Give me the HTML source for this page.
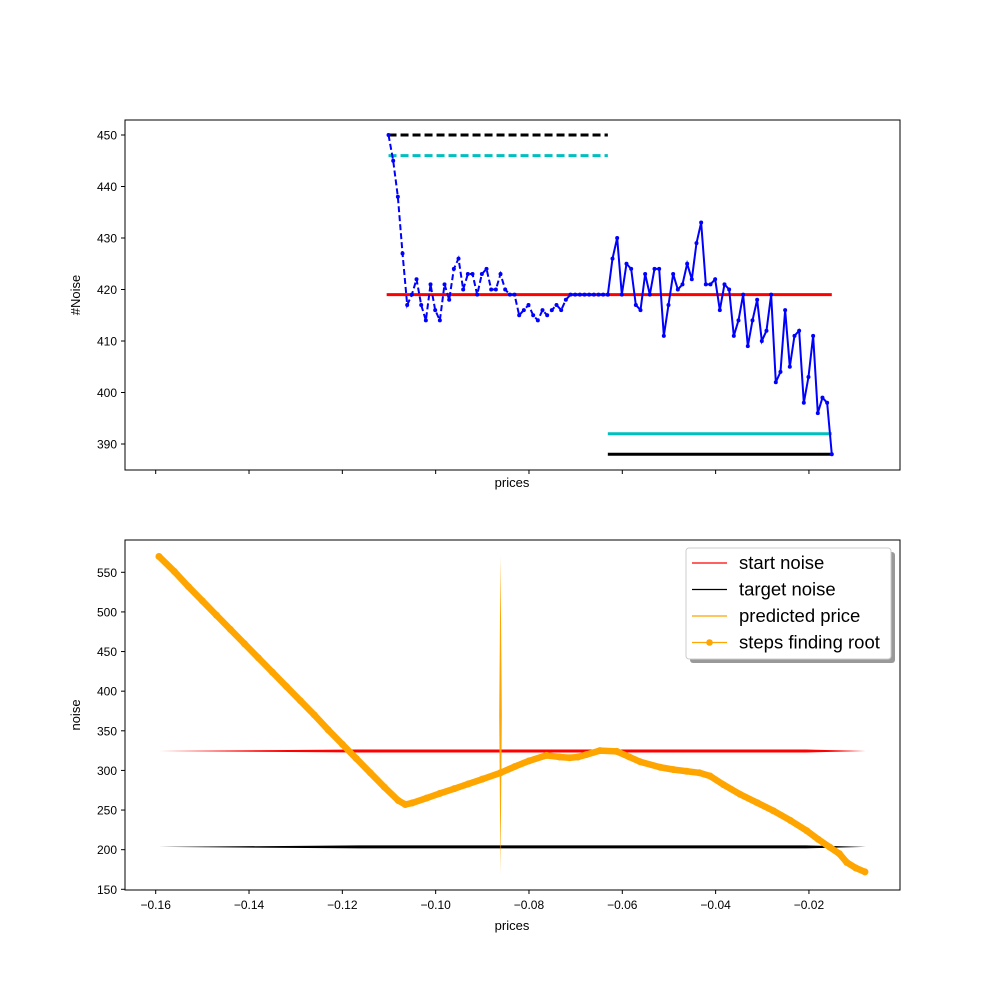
<!DOCTYPE html>
<html><head><meta charset="utf-8"><style>
html,body{margin:0;padding:0;background:#fff;}
svg{display:block;font-family:"Liberation Sans","DejaVu Sans",sans-serif;}
</style></head><body>
<svg id="chart" width="1000" height="1000" viewBox="0 0 1000 1000" xmlns="http://www.w3.org/2000/svg">
<rect x="0" y="0" width="1000" height="1000" fill="#fff"/>
<g id="topPanel"></g>
<g id="botPanel"></g>
</svg>
<script>
// ---- data ----
const priceTicks = [-0.16,-0.14,-0.12,-0.10,-0.08,-0.06,-0.04,-0.02];
const priceTickLabels = ["−0.16","−0.14","−0.12","−0.10","−0.08","−0.06","−0.04","−0.02"];
const topYTicks = [390,400,410,420,430,440,450];
const botYTicks = [150,200,250,300,350,400,450,500,550];
// top panel series
const dashedRange = [-0.1101, -0.0631];
const dashedNoise = [450,445,438,427,417,419,422,417,414,421,416,414,421,418,424,426,420,423,423,419,423,424,420,420,423,420,419,419,415,416,417,415,414,416,415,416,417,416,418,419,419,419,419,419,419,419,419,419];
const solidRange = [-0.0631, -0.0151];
const solidNoise = [419,426,430,419,425,424,417,416,423,419,424,424,411,417,423,420,421,425,422,429,433,421,421,422,416,421,420,411,414,419,409,414,418,410,412,419,402,404,416,405,411,412,398,403,411,396,399,398,388];
const topStartNoise = 419, topTargetA = 392, topTargetB = 388, topDashA = 450, topDashB = 446;
// bottom panel series
const stepPrices = [-0.1593,-0.156,-0.153,-0.150,-0.147,-0.144,-0.141,-0.138,-0.135,-0.132,-0.129,-0.126,-0.123,-0.120,-0.117,-0.114,-0.111,-0.108,-0.1065,-0.105,-0.102,-0.0991,-0.096,-0.093,-0.090,-0.0861,-0.083,-0.080,-0.0763,-0.0735,-0.0713,-0.0695,-0.0677,-0.0648,-0.0612,-0.0585,-0.0562,-0.0519,-0.049,-0.0462,-0.0435,-0.0412,-0.0383,-0.0348,-0.031,-0.0276,-0.024,-0.0205,-0.018,-0.0155,-0.0135,-0.0119,-0.010,-0.0080];
const stepNoise = [570,551,532,514,496,478,460,442,424,406,388,370,351,333,315,297,279,262,257,259,265,271,277,283,289,297,305,312,319,317,316,317,320,325,324,317,311,304,301,299,297,293,282,270,259,249,237,224,213,203,195,184,177,172];
const startNoise = 324.5, targetNoise = 203.5, predictedPrice = -0.0861, predictedSpan = [170, 570];

// ---- scales ----
const X = p => 155.7 + (p + 0.16) * 4666;
const YT = v => 135 + (450 - v) * 5.15;
const YB = v => 572.3 + (550 - v) * 0.7925;
const NS = "http://www.w3.org/2000/svg";
function mk(parent, tag, attrs){ const el=document.createElementNS(NS,tag); for(const k in attrs) el.setAttribute(k,attrs[k]); parent.appendChild(el); return el; }
const topG = document.getElementById('topPanel'), botG = document.getElementById('botPanel');

// ---- top panel ----
let e;
e = mk(topG,'rect',{x:125,y:120,width:775,height:350,fill:'none',stroke:'#000','stroke-width':1});


topYTicks.forEach(v=>{
  e = mk(topG,'line',{x1:121,x2:125,y1:YT(v),y2:YT(v),stroke:'#000'});
  
  
  e = mk(topG,'text',{x:117,y:YT(v)+4.5,'text-anchor':'end','font-size':12});
  e.textContent = v;
  
  
});
priceTicks.forEach(p=>{
  e = mk(topG,'line',{x1:X(p),x2:X(p),y1:470,y2:474,stroke:'#000'});
  
  
});
e = mk(topG,'text',{x:512,y:487,'text-anchor':'middle','font-size':13}); e.textContent='prices';


e = mk(topG,'text',{x:0,y:0,'text-anchor':'middle','font-size':13,transform:'translate(80,295) rotate(-90)'}); e.textContent='#Noise';



function hline(g,p1,p2,v,Y,color,dash,name){
  const a={x1:X(p1),x2:X(p2),y1:Y(v),y2:Y(v),stroke:color,'stroke-width':3};
  if(dash) a['stroke-dasharray']=dash;
  const l=mk(g,'line',a);
  
  
}
hline(topG,dashedRange[0],dashedRange[1],topDashA,YT,'#000','8,4','black-dashed-line');
hline(topG,dashedRange[0],dashedRange[1],topDashB,YT,'#00bfbf','8,4','cyan-dashed-line');
hline(topG,-0.1105,solidRange[1],topStartNoise,YT,'#ff0000',null,'red-start-line');
hline(topG,solidRange[0],solidRange[1],topTargetA,YT,'#00bfbf',null,'cyan-solid-line');
hline(topG,solidRange[0],solidRange[1],topTargetB,YT,'#000',null,'black-solid-line');

function series(vals,range,dash,name){
  const n=vals.length;
  const pts=vals.map((v,i)=>[X(range[0]+(range[1]-range[0])*i/(n-1)),YT(v)]);
  const a={points:pts.map(p=>p.join(',')).join(' '),fill:'none',stroke:'#0000ff','stroke-width':2};
  if(dash) a['stroke-dasharray']=dash;
  const pl=mk(topG,'polyline',a);
  
  
  pts.forEach(p=>{
    const c=mk(topG,'circle',{cx:p[0],cy:p[1],r:2,fill:'#0000ff'});
    
    
  });
}
series(dashedNoise,dashedRange,'6,3','noise-dashed-series');
series(solidNoise,solidRange,null,'noise-solid-series');

// ---- bottom panel ----
e = mk(botG,'rect',{x:125,y:540,width:775,height:350,fill:'none',stroke:'#000','stroke-width':1});


botYTicks.forEach(v=>{
  e = mk(botG,'line',{x1:121,x2:125,y1:YB(v),y2:YB(v),stroke:'#000'});
  
  
  e = mk(botG,'text',{x:117,y:YB(v)+4.5,'text-anchor':'end','font-size':12}); e.textContent=v;
  
  
});
priceTicks.forEach((p,i)=>{
  e = mk(botG,'line',{x1:X(p),x2:X(p),y1:890,y2:894,stroke:'#000'});
  
  
  e = mk(botG,'text',{x:X(p),y:909,'text-anchor':'middle','font-size':12}); e.textContent=priceTickLabels[i];
  
  
});
e = mk(botG,'text',{x:512,y:930,'text-anchor':'middle','font-size':13}); e.textContent='prices';


e = mk(botG,'text',{x:0,y:0,'text-anchor':'middle','font-size':13,transform:'translate(80,715) rotate(-90)'}); e.textContent='noise';



function taperH(v,color,name){
  const x1=X(-0.1593), x2=X(-0.0078), y=YB(v);
  const p=mk(botG,'polygon',{points:`${x1},${y} ${x1+200},${y-1.5} ${x2-60},${y-1.5} ${x2},${y} ${x2-60},${y+1.5} ${x1+200},${y+1.5}`,fill:color});
  
  
}
taperH(startNoise,'#ff0000','start-noise-line');
taperH(targetNoise,'#000','target-noise-line');
(function(){
  const x=X(predictedPrice), y1=YB(predictedSpan[1]), y2=YB(predictedSpan[0]), m=(y1+y2)/2;
  const p=mk(botG,'polygon',{points:`${x},${y1} ${x+1.3},${m} ${x},${y2} ${x-1.3},${m}`,fill:'#ffa500'});
  
  
})();
const spts=stepPrices.map((p,i)=>[X(p),YB(stepNoise[i])]);
e = mk(botG,'polyline',{points:spts.map(p=>p.join(',')).join(' '),fill:'none',stroke:'#ffa500','stroke-width':6.5,'stroke-linejoin':'round','stroke-linecap':'round'});


spts.forEach(p=>{
  const c=mk(botG,'circle',{cx:p[0],cy:p[1],r:3.5,fill:'#ffa500'});
  
  
});

// legend
const lg=mk(botG,'g',{});


mk(lg,'rect',{x:690,y:552,width:205,height:111,rx:3,fill:'#999'});
mk(lg,'rect',{x:686,y:548,width:205,height:111,rx:3,fill:'#fff',stroke:'#ccc'});
const legItems=[['start noise','#ff0000',false],['target noise','#000',false],['predicted price','#ffa500',false],['steps finding root','#ffa500',true]];
legItems.forEach((it,i)=>{
  const y=563+i*26.5;
  const g=mk(lg,'g',{});
  
  
  mk(g,'line',{x1:692,x2:727,y1:y,y2:y,stroke:it[1],'stroke-width':1.2});
  if(it[2]) mk(g,'circle',{cx:709.5,cy:y,r:3.3,fill:it[1]});
  const t=mk(g,'text',{x:739,y:y+6,'font-size':18.5}); t.textContent=it[0];
});
</script>
</body></html>
